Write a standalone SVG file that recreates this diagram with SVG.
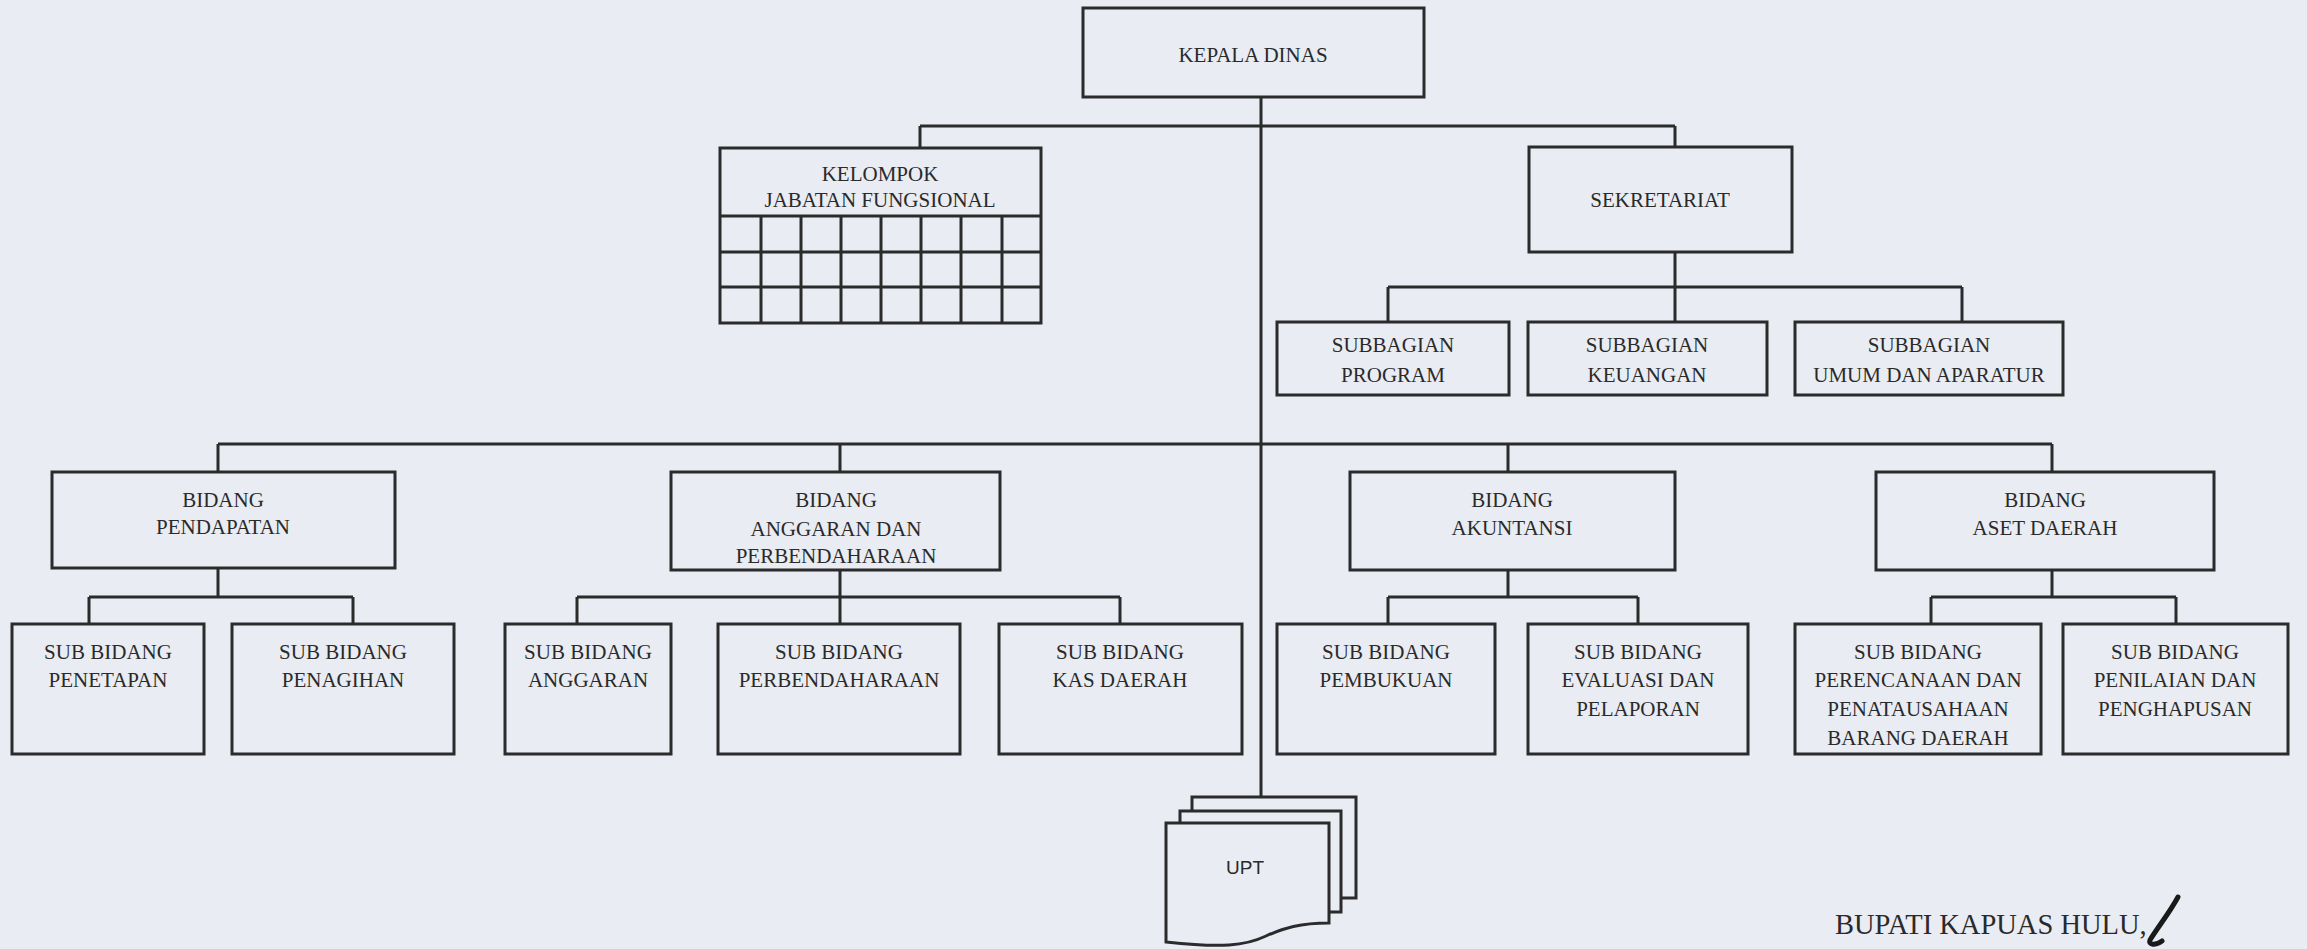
<svg xmlns="http://www.w3.org/2000/svg" width="2307" height="949" viewBox="0 0 2307 949">
<style>
.bx{fill:#e9ecf2;stroke:#2b2b2b;stroke-width:3}
.ln{fill:none;stroke:#2b2b2b;stroke-width:3}
.t{font-family:"Liberation Serif","Times New Roman",serif;font-size:21px;fill:#2a2a2a;text-anchor:middle}
.s{font-family:"Liberation Sans",Arial,sans-serif;font-size:19px;fill:#2a2a2a;text-anchor:middle}
</style>
<rect x="0" y="0" width="2307" height="949" fill="#e9ecf2"/>
<g id="connectors" class="ln">
<path d="M1261,97 V797"/>
<path d="M920,126 H1675 M920,126 V148 M1675,126 V147"/>
<path d="M1675,252 V322 M1388,287 H1962 M1388,287 V322 M1962,287 V322"/>
<path d="M218,444 H2052 M218,444 V472 M840,444 V472 M1508,444 V472 M2052,444 V472"/>
<path d="M218,568 V597 M89,597 H353 M89,597 V624 M353,597 V624"/>
<path d="M840,570 V597 M577,597 H1120 M577,597 V624 M840,597 V624 M1120,597 V624"/>
<path d="M1508,570 V597 M1388,597 H1638 M1388,597 V624 M1638,597 V624"/>
<path d="M2052,570 V597 M1931,597 H2176 M1931,597 V624 M2176,597 V624"/>
</g>
<g id="kepala-dinas"><rect class="bx" x="1083" y="8" width="341" height="89"/><text class="t" x="1253" y="62">KEPALA DINAS</text></g>
<g id="kelompok-jf">
<rect class="bx" x="720" y="148" width="321" height="175"/>
<path class="ln" d="M720,216 H1041 M720,252 H1041 M720,287 H1041 M761,216 V323 M801,216 V323 M841,216 V323 M881,216 V323 M921,216 V323 M961,216 V323 M1002,216 V323"/>
<text class="t" x="880" y="181">KELOMPOK</text><text class="t" x="880" y="207">JABATAN FUNGSIONAL</text>
</g>
<g id="sekretariat"><rect class="bx" x="1529" y="147" width="263" height="105"/><text class="t" x="1660" y="207">SEKRETARIAT</text></g>
<g id="sub-program"><rect class="bx" x="1277" y="322" width="232" height="73"/><text class="t" x="1393" y="352">SUBBAGIAN</text><text class="t" x="1393" y="382">PROGRAM</text></g>
<g id="sub-keuangan"><rect class="bx" x="1528" y="322" width="239" height="73"/><text class="t" x="1647" y="352">SUBBAGIAN</text><text class="t" x="1647" y="382">KEUANGAN</text></g>
<g id="sub-umum"><rect class="bx" x="1795" y="322" width="268" height="73"/><text class="t" x="1929" y="352">SUBBAGIAN</text><text class="t" x="1929" y="382">UMUM DAN APARATUR</text></g>
<g id="bidang-pendapatan"><rect class="bx" x="52" y="472" width="343" height="96"/><text class="t" x="223" y="507">BIDANG</text><text class="t" x="223" y="534">PENDAPATAN</text></g>
<g id="bidang-anggaran"><rect class="bx" x="671" y="472" width="329" height="98"/><text class="t" x="836" y="507">BIDANG</text><text class="t" x="836" y="536">ANGGARAN DAN</text><text class="t" x="836" y="563">PERBENDAHARAAN</text></g>
<g id="bidang-akuntansi"><rect class="bx" x="1350" y="472" width="325" height="98"/><text class="t" x="1512" y="507">BIDANG</text><text class="t" x="1512" y="535">AKUNTANSI</text></g>
<g id="bidang-aset"><rect class="bx" x="1876" y="472" width="338" height="98"/><text class="t" x="2045" y="507">BIDANG</text><text class="t" x="2045" y="535">ASET DAERAH</text></g>
<g id="sb-penetapan"><rect class="bx" x="12" y="624" width="192" height="130"/><text class="t" x="108" y="659">SUB BIDANG</text><text class="t" x="108" y="687">PENETAPAN</text></g>
<g id="sb-penagihan"><rect class="bx" x="232" y="624" width="222" height="130"/><text class="t" x="343" y="659">SUB BIDANG</text><text class="t" x="343" y="687">PENAGIHAN</text></g>
<g id="sb-anggaran"><rect class="bx" x="505" y="624" width="166" height="130"/><text class="t" x="588" y="659">SUB BIDANG</text><text class="t" x="588" y="687">ANGGARAN</text></g>
<g id="sb-perbendaharaan"><rect class="bx" x="718" y="624" width="242" height="130"/><text class="t" x="839" y="659">SUB BIDANG</text><text class="t" x="839" y="687">PERBENDAHARAAN</text></g>
<g id="sb-kas-daerah"><rect class="bx" x="999" y="624" width="243" height="130"/><text class="t" x="1120" y="659">SUB BIDANG</text><text class="t" x="1120" y="687">KAS DAERAH</text></g>
<g id="sb-pembukuan"><rect class="bx" x="1277" y="624" width="218" height="130"/><text class="t" x="1386" y="659">SUB BIDANG</text><text class="t" x="1386" y="687">PEMBUKUAN</text></g>
<g id="sb-evaluasi"><rect class="bx" x="1528" y="624" width="220" height="130"/><text class="t" x="1638" y="659">SUB BIDANG</text><text class="t" x="1638" y="687">EVALUASI DAN</text><text class="t" x="1638" y="716">PELAPORAN</text></g>
<g id="sb-perencanaan"><rect class="bx" x="1795" y="624" width="246" height="130"/><text class="t" x="1918" y="659">SUB BIDANG</text><text class="t" x="1918" y="687">PERENCANAAN DAN</text><text class="t" x="1918" y="716">PENATAUSAHAAN</text><text class="t" x="1918" y="745">BARANG DAERAH</text></g>
<g id="sb-penilaian"><rect class="bx" x="2063" y="624" width="225" height="130"/><text class="t" x="2175" y="659">SUB BIDANG</text><text class="t" x="2175" y="687">PENILAIAN DAN</text><text class="t" x="2175" y="716">PENGHAPUSAN</text></g>
<g id="upt">
<rect class="bx" x="1192" y="797" width="164" height="101"/>
<rect class="bx" x="1180" y="811" width="161" height="101"/>
<path class="bx" d="M1166,823 H1329 V923 C1300,923 1284,928 1266,936 C1245,946 1222,948 1166,942 Z"/>
<text class="s" x="1245" y="874">UPT</text>
</g>
<g id="signature">
<text x="1835" y="934" style="font-family:'Liberation Serif','Times New Roman',serif;font-size:28.5px;fill:#2a2a2a">BUPATI KAPUAS HULU,</text>
<path d="M2178,897 C2170,912 2158,927 2150,940 C2148,945 2155,946 2162,941" fill="none" stroke="#1a1a1a" stroke-width="5" stroke-linecap="round"/>
</g>
</svg>
